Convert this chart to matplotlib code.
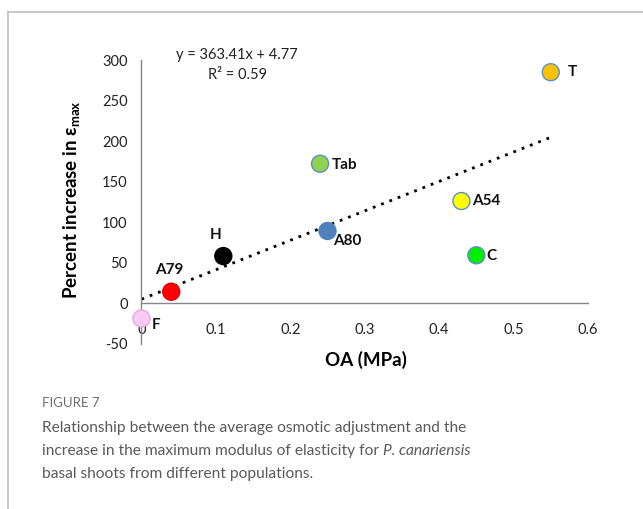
"""
Scatter of osmotic adjustment vs. increase in maximum modulus of elasticity.
"""

import matplotlib
matplotlib.use("Agg")
import matplotlib.pyplot as plt
from matplotlib.lines import Line2D

POPULATIONS: list[str] = ["F", "A79", "H", "A80", "Tab", "A54", "C", "T"]
OA_MPA: list[float] = [0.0, 0.04, 0.11, 0.25, 0.24, 0.43, 0.45, 0.55]
PCT_INCREASE: list[float] = [-19, 14, 58, 89, 172, 126, 59, 285]

TREND_SLOPE = 363.41
TREND_INTERCEPT = 4.77
TREND_X: list[float] = [0.0, 0.55]

X_TICKS: list[float] = [0, 0.1, 0.2, 0.3, 0.4, 0.5, 0.6]
Y_TICKS: list[int] = [-50, 0, 50, 100, 150, 200, 250, 300]

FACE_COLORS = ["#F9CBF3", "#FF0000", "#000000", "#4F81BD",
               "#92D050", "#FFFF00", "#00EE00", "#FFC000"]
EDGE_COLORS = ["#E9A6E3", "#E00000", "#000000", "#4F81BD",
               "#5B8FC9", "#5B8FC9", "#5B8FC9", "#5B8FC9"]
# label placement relative to the marker, in pixels
LABEL_OFFSETS = [(10, -7, "left"), (-2, 22, "center"), (-8, 21, "center"),
                 (6, -10, "left"), (12, -1, "left"), (11, 0, "left"),
                 (10, -1, "left"), (17, 0, "left")]


def create_scatter_chart() -> None:
    """Draw the figure and save it as out.png."""
    plt.rcParams["font.family"] = ["Lato", "DejaVu Sans"]
    plt.rcParams["axes.unicode_minus"] = False
    plt.rcParams["mathtext.fontset"] = "custom"
    plt.rcParams["mathtext.rm"] = "Lato"
    plt.rcParams["mathtext.bf"] = "Lato:bold"

    fig = plt.figure(figsize=(6.43, 5.09), dpi=100)
    ax = fig.add_axes([0.220, 0.325, 0.6944, 0.557])

    ax.set_xlim(0, 0.6)
    ax.set_ylim(-50, 300)
    ax.spines["top"].set_visible(False)
    ax.spines["right"].set_visible(False)
    ax.spines["bottom"].set_position(("data", 0))
    ax.spines["left"].set_position(("data", 0))
    for side in ("bottom", "left"):
        ax.spines[side].set_color("#868686")
        ax.spines[side].set_linewidth(1.0)

    ax.set_xticks(X_TICKS)
    ax.set_xticklabels(["0" if v == 0 else f"{v:g}" for v in X_TICKS])
    ax.set_yticks(Y_TICKS)
    ax.tick_params(axis="x", length=0, pad=14, labelsize=10.5,
                   colors="#222222")
    ax.tick_params(axis="y", length=0, pad=10, labelsize=10.5,
                   colors="#222222")

    # dotted linear trend line
    trend_y = [TREND_SLOPE * x + TREND_INTERCEPT for x in TREND_X]
    ax.plot(TREND_X, trend_y, linestyle=(0, (1, 2.2)), color="black",
            linewidth=2.0, zorder=2)

    ax.scatter(OA_MPA, PCT_INCREASE, s=150, c=FACE_COLORS,
               edgecolors=EDGE_COLORS, linewidths=1.0, zorder=3,
               clip_on=False)

    for name, x, y, (dx, dy, ha) in zip(POPULATIONS, OA_MPA, PCT_INCREASE,
                                        LABEL_OFFSETS):
        ax.annotate(name, (x, y), xytext=(dx, dy),
                    textcoords="offset pixels", ha=ha, va="center",
                    fontsize=11, fontweight="bold", color="#111111")

    fig.text(0.3686, 0.892, "y = 363.41x + 4.77", ha="center",
             va="center", fontsize=10.5, color="#222222")
    fig.text(0.3686, 0.853, "R² = 0.59", ha="center", va="center",
             fontsize=10.5, color="#222222")

    fig.text(366 / 643, 1 - 360 / 509, "OA (MPa)", ha="center",
             va="center", fontsize=13.5, fontweight="bold")
    fig.text(72 / 643, 1 - 200 / 509,
             r"Percent increase in ε$_{\mathbf{max}}$", ha="center",
             va="center", rotation=90, fontsize=13.5, fontweight="bold")

    # caption
    cap_style = dict(ha="left", va="baseline", fontsize=11.2,
                     color="#5a5a5a")
    fig.text(42 / 643, 1 - 407 / 509, "FIGURE 7", ha="left",
             va="baseline", fontsize=9.5, color="#6f6f6f")
    caption = [
        "Relationship between the average osmotic adjustment and the",
        "increase in the maximum modulus of elasticity for",
        "basal shoots from different populations.",
    ]
    line_texts = []
    for i, line in enumerate(caption):
        line_texts.append(fig.text(42 / 643, 1 - (432 + 22.8 * i) / 509,
                                   line, **cap_style))

    # italic species name after the second caption line
    renderer = fig.canvas.get_renderer()
    box = line_texts[1].get_window_extent(renderer=renderer)
    fig.text((box.x1 + 4) / 643, 1 - (432 + 22.8) / 509, "P. canariensis",
             style="italic", **cap_style)

    # frame around the figure panel
    top_y = 1 - 12 / 509
    left_x = 8 / 643
    fig.add_artist(Line2D([left_x, 1], [top_y, top_y], color="#bdbdbd",
                          linewidth=1.2, transform=fig.transFigure))
    fig.add_artist(Line2D([left_x, left_x], [0, top_y], color="#bdbdbd",
                          linewidth=1.2, transform=fig.transFigure))

    fig.savefig("out.png", dpi=100)


if __name__ == "__main__":
    create_scatter_chart()
